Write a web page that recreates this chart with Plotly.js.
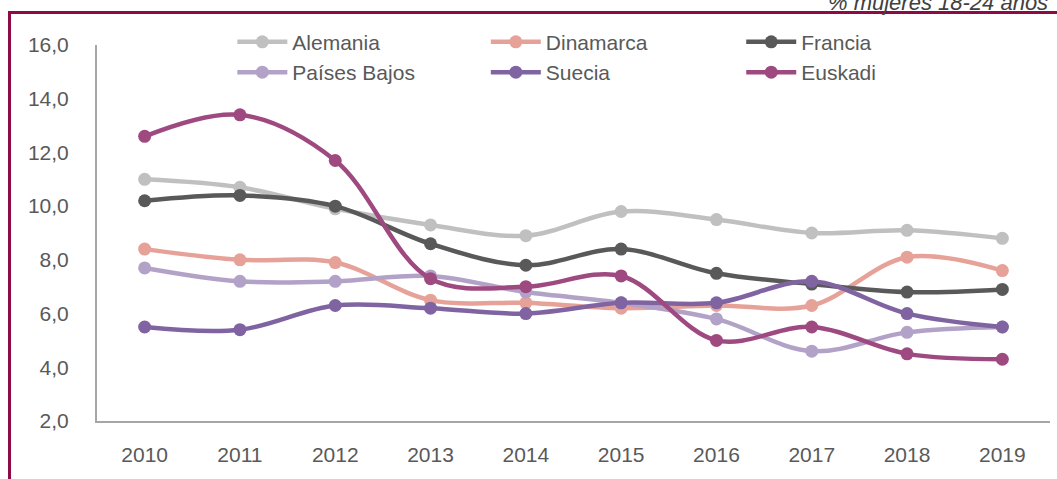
<!DOCTYPE html>
<html>
<head>
<meta charset="utf-8">
<script src="https://cdn.plot.ly/plotly-3.0.1.min.js"></script>
<style>html,body{margin:0;padding:0;background:#fff;}#chart{width:1057px;height:479px;}</style>
</head>
<body>
<div id="chart"></div>
<script>
const years = ['2010','2011','2012','2013','2014','2015','2016','2017','2018','2019'];
const alemania    = [11.0, 10.7, 9.9, 9.3, 8.9, 9.8, 9.5, 9.0, 9.1, 8.8];
const dinamarca   = [8.4, 8.0, 7.9, 6.5, 6.4, 6.2, 6.3, 6.3, 8.1, 7.6];
const francia     = [10.2, 10.4, 10.0, 8.6, 7.8, 8.4, 7.5, 7.1, 6.8, 6.9];
const paisesBajos = [7.7, 7.2, 7.2, 7.4, 6.8, 6.4, 5.8, 4.6, 5.3, 5.5];
const suecia      = [5.5, 5.4, 6.3, 6.2, 6.0, 6.4, 6.4, 7.2, 6.0, 5.5];
const euskadi     = [12.6, 13.4, 11.7, 7.3, 7.0, 7.4, 5.0, 5.5, 4.5, 4.3];
const yTicks = [2,4,6,8,10,12,14,16];
const subtitle = '% mujeres 18-24 años';

const series = [
  {name:'Alemania', y:alemania, color:'#C0C0C0', legend:'legend'},
  {name:'Dinamarca', y:dinamarca, color:'#E6A299', legend:'legend2'},
  {name:'Francia', y:francia, color:'#595959', legend:'legend3'},
  {name:'Países Bajos', y:paisesBajos, color:'#B3A2C7', legend:'legend'},
  {name:'Suecia', y:suecia, color:'#8064A2', legend:'legend2'},
  {name:'Euskadi', y:euskadi, color:'#9E4A80', legend:'legend3'}
];

const FONT = 'Liberation Sans, Arial, sans-serif';

const traces = series.map(s => ({
  type:'scatter', mode:'lines+markers', name:s.name, legend:s.legend,
  x: years, y: s.y,
  line:{color:s.color, width:4.5, shape:'spline', smoothing:1},
  marker:{color:s.color, size:13}
}));

function leg(xp){
  return {
    orientation:'v', x:xp, xanchor:'left', y:1.062, yanchor:'top',
    font:{family:FONT, size:21, color:'#595959'},
    bgcolor:'rgba(0,0,0,0)', itemwidth:50, tracegroupgap:0, borderwidth:0
  };
}

const layout = {
  width:1057, height:479,
  margin:{l:97, r:7, t:45, b:58},
  paper_bgcolor:'#fff', plot_bgcolor:'#fff',
  separators:',.',
  font:{family:FONT, size:21, color:'#595959'},
  showlegend:true,
  legend:leg(0.142),
  legend2:leg(0.408),
  legend3:leg(0.676),
  xaxis:{
    type:'category', range:[-0.5, 9.5],
    showline:true, linecolor:'#A6A6A6', linewidth:2,
    showgrid:false, zeroline:false, ticks:'',
    ticklabelstandoff:14,
    tickfont:{family:FONT, size:21, color:'#595959'}
  },
  yaxis:{
    range:[2,16], tickvals:yTicks, tickformat:'.1f',
    showline:true, linecolor:'#A6A6A6', linewidth:2,
    showgrid:false, zeroline:false, ticks:'',
    ticklabelstandoff:22,
    tickfont:{family:FONT, size:21, color:'#595959'}
  },
  shapes:[
    {type:'line', xref:'paper', yref:'paper', x0:-0.0918, x1:-0.0918, y0:1.0864, y1:-0.16, line:{color:'#8B0A47', width:3}},
    {type:'line', xref:'paper', yref:'paper', x0:-0.0934, x1:1.01, y0:1.0864, y1:1.0864, line:{color:'#8B0A47', width:3}}
  ],
  annotations:[
    {text:'<i>'+subtitle+'</i>', xref:'paper', yref:'paper', x:1, xanchor:'right', y:1.112, yanchor:'middle', showarrow:false,
     font:{family:FONT, size:22, color:'#404040'}}
  ]
};

Plotly.newPlot('chart', traces, layout, {displayModeBar:false, staticPlot:true});
</script>
</body>
</html>
